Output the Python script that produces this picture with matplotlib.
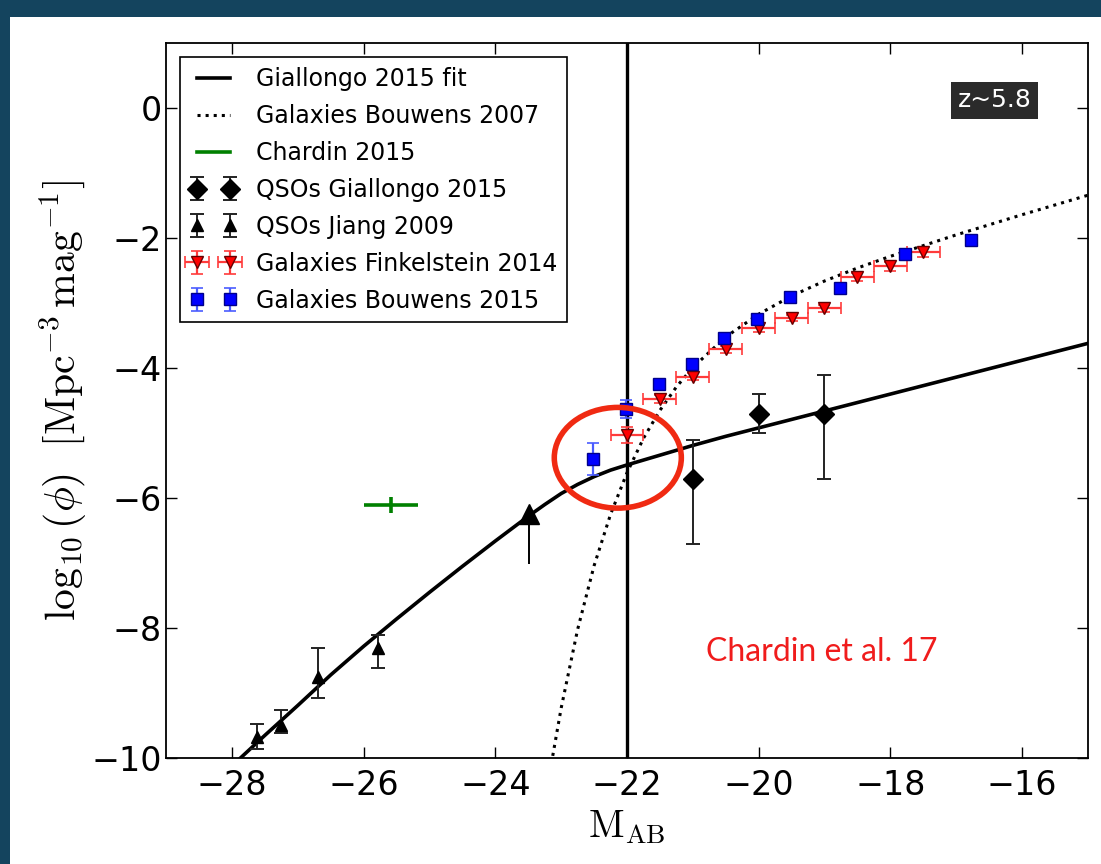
import matplotlib
matplotlib.use('Agg')
import matplotlib.pyplot as plt
from matplotlib.lines import Line2D
from matplotlib.patches import Ellipse, Rectangle

plt.rcParams['mathtext.fontset'] = 'cm'
plt.rcParams['font.family'] = 'DejaVu Sans'

# Giallongo 2015 double power law fit
fit_M = [-28.0, -27.5, -27.0, -26.5, -26.0, -25.5, -25.0, -24.5, -24.0, -23.75,
         -23.5, -23.25, -23.0, -22.75, -22.5, -22.25, -22.0, -21.5, -21.0, -20.5,
         -20.0, -19.5, -19.0, -18.5, -18.0, -17.0, -16.0, -15.0]
fit_phi = [-10.12, -9.65, -9.19, -8.72, -8.28, -7.86, -7.45, -7.05, -6.66, -6.47,
           -6.28, -6.10, -5.93, -5.79, -5.67, -5.57, -5.49, -5.34, -5.19, -5.05,
           -4.92, -4.79, -4.66, -4.53, -4.40, -4.14, -3.88, -3.62]

# Bouwens 2007 Schechter curve
b07_M = [-23.15, -23.0, -22.75, -22.5, -22.25, -22.0, -21.75, -21.5, -21.25, -21.0,
         -20.5, -20.0, -19.5, -19.0, -18.5, -18.0, -17.0, -16.0, -15.0]
b07_phi = [-10.09, -9.23, -8.02, -7.04, -6.25, -5.61, -5.08, -4.65, -4.29, -3.99,
           -3.52, -3.17, -2.89, -2.66, -2.46, -2.28, -1.95, -1.64, -1.34]

# Chardin 2015
chardin_M = [-25.59]
chardin_phi = [-6.11]
chardin_xerr = [0.41]
chardin_yerr = [0.12]

# QSOs Giallongo 2015
gia_M = [-21.0, -20.0, -19.0]
gia_phi = [-5.71, -4.71, -4.71]
gia_err_lo = [1.0, 0.29, 1.0]
gia_err_hi = [0.6, 0.31, 0.6]

# QSOs Jiang 2009
jiang_M = [-27.62, -27.25, -26.70, -25.79]
jiang_phi = [-9.67, -9.49, -8.76, -8.31]
jiang_err_lo = [0.19, 0.12, 0.31, 0.31]
jiang_err_hi = [0.19, 0.23, 0.45, 0.20]
jiang_bright_M = [-23.49]
jiang_bright_phi = [-6.25]
jiang_bright_lo = [0.77]

# Galaxies Finkelstein 2014
fink_M = [-22.0, -21.5, -21.0, -20.5, -20.0, -19.5, -19.0, -18.5, -18.0, -17.5]
fink_phi = [-5.03, -4.47, -4.13, -3.71, -3.39, -3.23, -3.08, -2.60, -2.43, -2.22]
fink_xerr = [0.25] * 10
fink_yerr = [0.12, 0.06, 0.05, 0.05, 0.05, 0.05, 0.05, 0.06, 0.07, 0.07]

# Galaxies Bouwens 2015
bou_M = [-22.52, -22.02, -21.52, -21.02, -20.52, -20.02, -19.52, -18.77, -17.77, -16.77]
bou_phi = [-5.40, -4.63, -4.24, -3.93, -3.53, -3.24, -2.91, -2.77, -2.24, -2.03]
bou_err = [0.24, 0.14, 0.06, 0.05, 0.05, 0.04, 0.04, 0.05, 0.07, 0.08]

fig = plt.figure(figsize=(11.01, 8.64), dpi=100)
fig.patch.set_facecolor('#14445e')
fig.patches.append(Rectangle((10 / 1101, 0), 1, (864 - 17) / 864,
                             transform=fig.transFigure, facecolor='white',
                             edgecolor='none', zorder=-1))
ax = fig.add_axes([0.151, 0.1227, 0.837, 0.8273])

ax.plot(fit_M, fit_phi, 'k-', lw=2.6, label='Giallongo 2015 fit', zorder=3)
ax.plot(b07_M, b07_phi, 'k:', lw=2.2, label='Galaxies Bouwens 2007', zorder=3)
ax.axvline(-22, color='k', lw=2.4, zorder=3)

ax.errorbar(chardin_M, chardin_phi, xerr=chardin_xerr, yerr=chardin_yerr,
            fmt='none', ecolor='green', elinewidth=2.6, capsize=0, zorder=4)

ax.errorbar(gia_M, gia_phi, yerr=[gia_err_lo, gia_err_hi], fmt='D', color='k',
            ms=10, ecolor='#222222', elinewidth=1.4, capsize=5, capthick=1.4,
            label='QSOs Giallongo 2015', zorder=5)
ax.errorbar(jiang_M, jiang_phi, yerr=[jiang_err_lo, jiang_err_hi], fmt='^',
            color='k', ms=8, ecolor='#222222', elinewidth=1.4, capsize=5,
            capthick=1.4, label='QSOs Jiang 2009', zorder=5)
ax.errorbar(jiang_bright_M, jiang_bright_phi, yerr=[jiang_bright_lo, [0]],
            fmt='^', color='k', ms=15, ecolor='k', elinewidth=1.4, capsize=0,
            zorder=5)
ax.errorbar(fink_M, fink_phi, xerr=fink_xerr, yerr=fink_yerr, fmt='v',
            mfc='red', mec='#660000', ms=9, ecolor='#ff3b3b', elinewidth=1.6,
            capsize=4, capthick=1.2, label='Galaxies Finkelstein 2014', zorder=6)
ax.errorbar(bou_M, bou_phi, yerr=bou_err, fmt='s', mfc='#0000ff',
            mec='#00008b', ms=9, ecolor='#4a5cff', elinewidth=1.6, capsize=4,
            capthick=1.2, label='Galaxies Bouwens 2015', zorder=7)

ax.add_patch(Ellipse((-22.14, -5.38), 1.93, 1.55, fill=False,
                     edgecolor='#f02a12', lw=4, zorder=8))

ax.text(-20.80, -8.37, 'Chardin et al. 17', color='#f01c1c', fontsize=23,
        family='Lato', va='center', ha='left')
ax.text(-16.42, 0.12, 'z~5.8', color='white', fontsize=18, ha='center',
        va='center', bbox=dict(boxstyle='square,pad=0.25', fc='#2b2b2b',
                               ec='none'))

ax.set_xlim(-29, -15)
ax.set_ylim(-10, 1)
ax.set_xticks([-28, -26, -24, -22, -20, -18, -16])
ax.set_yticks([0, -2, -4, -6, -8, -10])
ax.tick_params(direction='in', top=True, right=True, length=8, width=1,
               labelsize=24)
ax.tick_params(axis='x', pad=8)
ax.tick_params(axis='y', pad=3)
for s in ax.spines.values():
    s.set_linewidth(1.3)

ax.set_xlabel(r'$\mathrm{M_{AB}}$', fontsize=28, labelpad=4)
ax.set_ylabel(r'$\log_{10}(\phi)\ \ [\mathrm{Mpc^{-3}\,mag^{-1}}]$',
              fontsize=30)
ax.yaxis.set_label_coords(-0.084, 0.5)

handles, labels = ax.get_legend_handles_labels()
chardin_handle = Line2D([], [], color='green', lw=2.6)
handles.insert(2, chardin_handle)
labels.insert(2, 'Chardin 2015')
leg = ax.legend(handles, labels, loc='upper left', fontsize=17, numpoints=2,
                fancybox=False, framealpha=1, edgecolor='k',
                borderaxespad=0.6, handlelength=2.0, labelspacing=0.55)
leg.get_frame().set_linewidth(1.2)

fig.savefig('out.png', dpi=100, facecolor=fig.get_facecolor())
